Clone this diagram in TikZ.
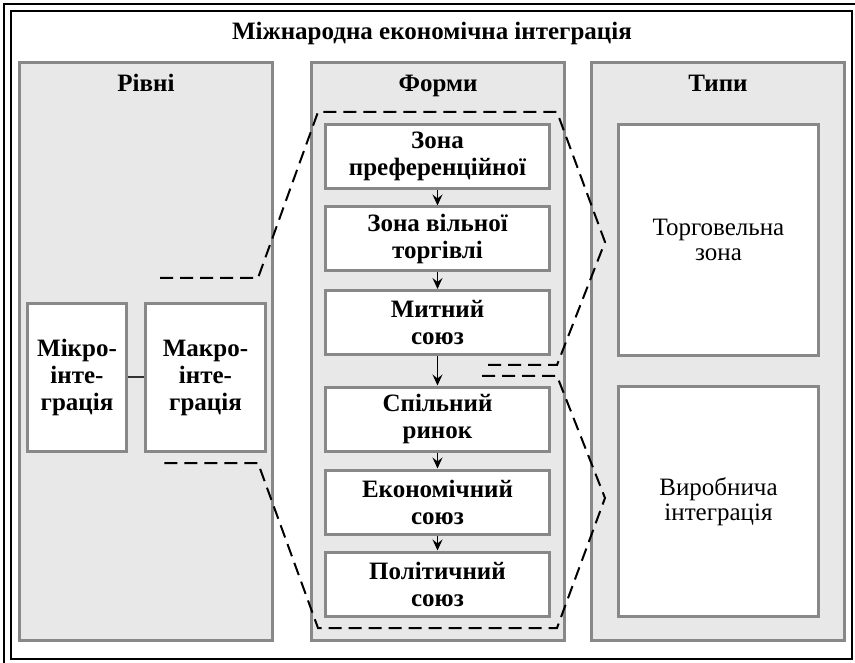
\documentclass[tikz,border=0pt]{standalone}
\usepackage{fontspec}
\setmainfont{Liberation Serif}
\usetikzlibrary{arrows.meta}
\definecolor{panelfill}{HTML}{E8E8E8}
\definecolor{bordergray}{HTML}{888888}
\tikzset{
  panel/.style={draw=bordergray, fill=panelfill, line width=3pt, inner sep=0pt, minimum width=253pt, minimum height=578pt},
  wbox/.style={draw=bordergray, fill=white, line width=3pt, inner sep=0pt, align=center, font=\fontsize{25}{27}\selectfont\bfseries},
  rbox/.style={draw=bordergray, fill=white, line width=3pt, inner sep=0pt, align=center, font=\fontsize{25}{25}\selectfont},
  ptitle/.style={font=\fontsize{25}{27}\selectfont\bfseries, inner sep=0pt, anchor=base},
  flowarrow/.style={line width=1.2pt, -{Stealth[length=11pt,width=10pt,inset=4pt]}},
  groupline/.style={line width=2pt, dash pattern=on 13pt off 7pt, line join=miter}
}
\begin{document}
\begin{tikzpicture}[x=1pt,y=-1pt]
\useasboundingbox (0,0) rectangle (855,663);
\fill[white] (0,0) rectangle (855,663);
% outer frame
\draw[line width=2.5pt] (4,663) -- (4,4) -- (855,4);
\draw[line width=2pt] (11,11) rectangle (852,659);
\node[font=\fontsize{25}{27}\selectfont\bfseries, inner sep=0pt, anchor=base] (title) at (432,40) {Міжнародна економічна інтеграція};
% panels
\node[panel] (pleft) at (146,351.5) {};
\node[panel] (pmid) at (438,351.5) {};
\node[panel] (pright) at (718,351.5) {};
\node[ptitle] (tleft) at (146,92) {Рівні};
\node[ptitle] (tmid) at (438,92) {Форми};
\node[ptitle] (tright) at (718,92) {Типи};
% left boxes
\node[wbox, minimum width=99pt, minimum height=148pt] (mikro) at (77,377.5) {Мікро-\\інте-\\грація};
\node[wbox, minimum width=120pt, minimum height=148pt] (makro) at (205.5,377.5) {Макро-\\інте-\\грація};
\draw[line width=2pt, black!80] (mikro.east) -- (makro.west);
% middle boxes
\tikzset{mbox/.style={wbox, minimum width=224pt, minimum height=64pt}}
\node[mbox] (f1) at (437.5,156.5) {Зона\\преференційної};
\node[mbox] (f2) at (437.5,239) {Зона вільної\\торгівлі};
\node[mbox] (f3) at (437.5,322.5) {Митний\\союз};
\node[mbox] (f4) at (437.5,419) {Спільний\\ринок};
\node[mbox] (f5) at (437.5,502) {Економічний\\союз};
\node[mbox] (f6) at (437.5,584) {Політичний\\союз};
\draw[flowarrow] (f1.south) -- (f2.north);
\draw[flowarrow] (f2.south) -- (f3.north);
\draw[flowarrow] (f3.south) -- (f4.north);
\draw[flowarrow] (f4.south) -- (f5.north);
\draw[flowarrow] (f5.south) -- (f6.north);
% right boxes
\node[rbox, minimum width=200pt, minimum height=231pt] (trade) at (718.5,240) {Торговельна\\зона};
\node[rbox, minimum width=200pt, minimum height=230pt] (prod) at (718.5,501.5) {Виробнича\\інтеграція};
% dashed grouping lines
\coordinate (u1) at (160,278);
\coordinate (u2) at (258,278);
\coordinate (u3) at (318,112);
\coordinate (u4) at (557,112);
\coordinate (u5) at (605,242);
\coordinate (u6) at (557,365);
\coordinate (u7) at (482,365);
\draw[groupline] (u1) -- (u2) -- (u3) -- (u4) -- (u5) -- (u6) -- (u7);
\coordinate (l1) at (160,463);
\coordinate (l2) at (258,463);
\coordinate (l3) at (318,628);
\coordinate (l4) at (557,628);
\coordinate (l5) at (605,498);
\coordinate (l6) at (557,376);
\coordinate (l7) at (482,376);
\draw[groupline] (l7) -- (l6) -- (l5) -- (l4) -- (l3) -- (l2) -- (l1);
\end{tikzpicture}
\end{document}
